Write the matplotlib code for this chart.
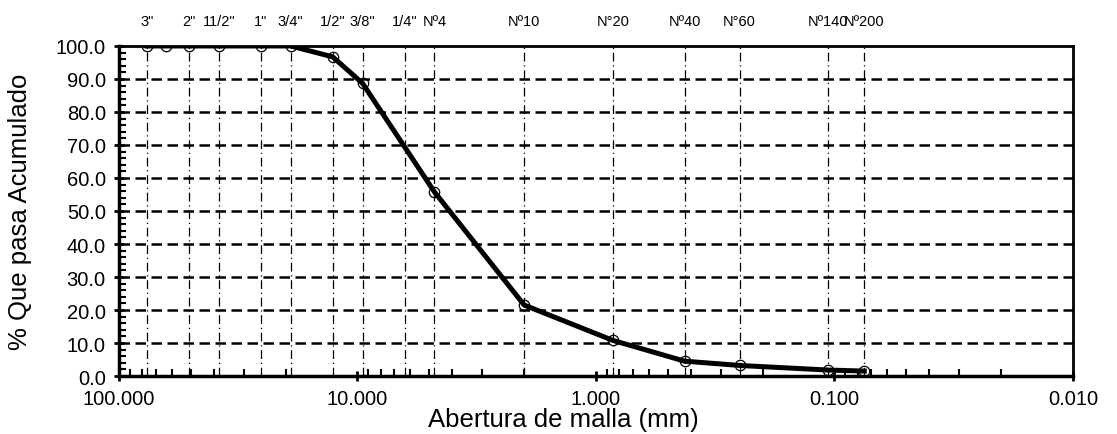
import matplotlib.pyplot as plt
import matplotlib.transforms as mtransforms
from matplotlib.ticker import FixedLocator, LogLocator, MultipleLocator, NullFormatter

plt.rcParams["font.family"] = ["Liberation Sans", "DejaVu Sans"]

# sieve openings (mm) and cumulative passing (%)
sieve_mm = [76.2, 63.5, 50.8, 38.1, 25.4, 19.05, 12.7, 9.525, 4.76, 2.0, 0.85, 0.425, 0.25, 0.106, 0.075]
passing = [100.0, 100.0, 100.0, 100.0, 100.0, 100.0, 96.7, 88.7, 55.8, 21.5, 10.8, 4.5, 3.2, 1.8, 1.5]

# labelled sieve lines along the top
line_mm = [76.2, 50.8, 38.1, 25.4, 19.05, 12.7, 9.525, 6.35, 4.76, 2.0, 0.85, 0.425, 0.25, 0.106, 0.075]
line_labels = ['3"', '2"', '11/2"', '1"', '3/4"', '1/2"', '3/8"', '1/4"', 'Nº4',
               'Nº10', 'N°20', 'Nº40', 'N°60', 'Nº140', 'Nº200']

fig = plt.figure(figsize=(11.17, 4.35), dpi=100)
ax = fig.add_axes([0.1065, 0.1333, 0.8541, 0.7587])

ax.set_xscale("log")
ax.set_xlim(100, 0.01)
ax.set_ylim(0, 100)

# horizontal grid
for y in range(10, 100, 10):
    ax.axhline(y, color="black", lw=1.8, ls=(0, (4.2, 2.2)), zorder=1)

# sieve lines + labels
trans = mtransforms.blended_transform_factory(ax.transData, ax.transAxes)
for x, lab in zip(line_mm, line_labels):
    ax.axvline(x, color="black", lw=0.9, ls=(0, (7, 3, 1, 3)), zorder=1)
    ax.text(x, 1.075, lab, transform=trans, ha="center", va="center", fontsize=10.5)

ax.plot(sieve_mm, passing, color="black", lw=3.6, zorder=3)
ax.plot(sieve_mm, passing, ls="none", marker="o", ms=7.5, mfc="none", mec="black", mew=0.9, zorder=4)

# ticks
ax.xaxis.set_major_locator(FixedLocator([100, 10, 1, 0.1, 0.01]))
ax.xaxis.set_minor_locator(LogLocator(base=10, subs=range(2, 10), numticks=20))
ax.xaxis.set_minor_formatter(NullFormatter())
ax.set_xticklabels(["100.000", "10.000", "1.000", "0.100", "0.010"])
ax.yaxis.set_major_locator(MultipleLocator(10))
ax.yaxis.set_minor_locator(MultipleLocator(2))
ax.yaxis.set_major_formatter(plt.FuncFormatter(lambda v, p: f"{v:.1f}"))

ax.tick_params(axis="both", which="major", direction="inout", length=7, width=2, labelsize=14.5)
ax.tick_params(axis="both", which="minor", direction="in", length=5, width=1.5)
ax.tick_params(axis="x", which="major", pad=6)
ax.tick_params(axis="y", which="major", pad=6)

for s in ["left", "bottom"]:
    ax.spines[s].set_linewidth(2.5)
for s in ["top", "right"]:
    ax.spines[s].set_linewidth(2)

ax.set_xlabel("Abertura de malla (mm)", fontsize=18.5, va="top")
ax.xaxis.set_label_coords(0.466, -0.094)
ax.set_ylabel("% Que pasa Acumulado", fontsize=18.5, va="center")
ax.yaxis.set_label_coords(-0.104, 0.5)

fig.savefig("out.png", dpi=100)
